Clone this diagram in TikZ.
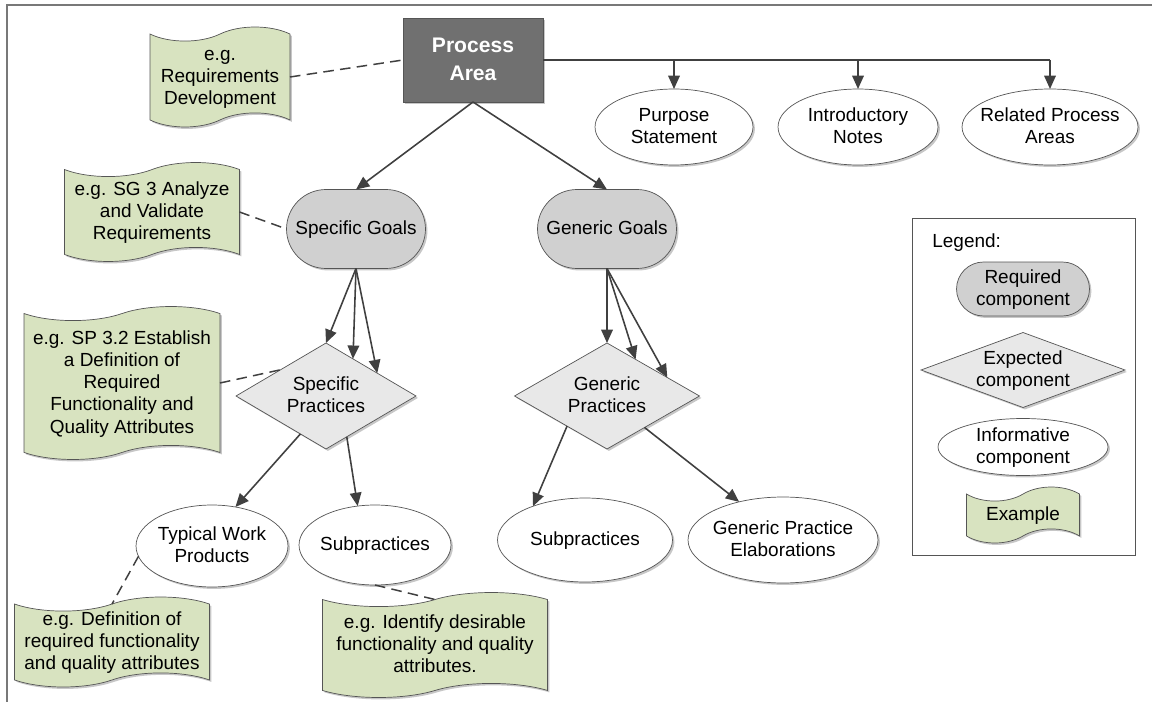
\documentclass[tikz,border=0pt]{standalone}
\usepackage{fontspec}
\setmainfont{Liberation Sans}
\usepackage{tikz}
\usetikzlibrary{arrows.meta,shapes,positioning,shadows}
\usepackage{xcolor}
\definecolor{cmline}{RGB}{64,64,64}
\definecolor{cmborder}{RGB}{85,85,85}
\definecolor{cmdark}{RGB}{112,112,112}
\definecolor{cmgoal}{RGB}{208,208,208}
\definecolor{cmpractice}{RGB}{232,232,232}
\definecolor{cmexample}{RGB}{216,227,192}
\definecolor{cmframe}{RGB}{120,120,120}
\newcommand{\shapetext}[1]{\makebox[0pt]{\raisebox{-3.5pt}[0pt][0pt]{\begin{tabular}{@{}c@{}}#1\end{tabular}}}}
\tikzstyle{arrow} = [line width=0.9pt,-{Triangle[length=7.6pt,width=6.6pt]},color=cmline]
\tikzstyle{dashline} = [line width=0.85pt,dash pattern=on 6pt off 3.6pt,color=cmline]
\tikzstyle{softshadow} = [drop shadow={shadow xshift=1.1pt,shadow yshift=-1.1pt,opacity=0.22,fill=black}]
\tikzstyle{areabox} = [rectangle, draw=cmborder, fill=cmdark, text=white, inner sep=0pt, outer sep=0pt, font=\fontsize{12}{15.9}\selectfont\bfseries, softshadow]
\tikzstyle{goalbox} = [rounded rectangle, draw=cmborder, fill=cmgoal, inner sep=0pt, outer sep=0pt, softshadow]
\tikzstyle{practicebox} = [diamond, draw=cmborder, fill=cmpractice, inner sep=0pt, outer sep=0pt, softshadow]
\tikzstyle{infobox} = [ellipse, draw=cmborder, fill=white, inner sep=0pt, outer sep=0pt, softshadow]
\tikzstyle{examplebox} = [tape, tape bend height=8pt, draw=cmborder, fill=cmexample, inner sep=0pt, outer sep=0pt, softshadow]

\begin{document}
\begin{tikzpicture}[x=0.02cm, y=-0.02cm, font=\fontsize{10.8}{12.6}\selectfont]
\useasboundingbox (0,0) rectangle (1152,702);
\draw[cmframe, line width=1.1pt] (7,702) -- (7,5) -- (1152,5);

% Process area and informative parts
\node[areabox, minimum width=2.8cm, minimum height=1.68cm] (area) at (473,60) {\shapetext{Process\\Area}};
\node[infobox, minimum width=3.16cm, minimum height=1.52cm] (purpose) at (674,127) {\shapetext{Purpose\\Statement}};
\node[infobox, minimum width=3.2cm, minimum height=1.52cm] (notes) at (858,127) {\shapetext{Introductory\\Notes}};
\node[infobox, minimum width=3.52cm, minimum height=1.52cm] (related) at (1050,127) {\shapetext{Related Process\\Areas}};
\draw[line width=0.9pt, cmline] (area.east) -- (area.east -| related.north);
\draw[arrow] (area.east -| purpose.north) -- (purpose.north);
\draw[arrow] (area.east -| notes.north) -- (notes.north);
\draw[arrow] (area.east -| related.north) -- (related.north);

% Goals
\node[goalbox, minimum width=2.78cm, minimum height=1.58cm] (sgoals) at (356,229) {\shapetext{Specific Goals}};
\node[goalbox, minimum width=2.78cm, minimum height=1.58cm] (ggoals) at (607,229) {\shapetext{Generic Goals}};
\draw[arrow] (area.south) -- (sgoals.north);
\draw[arrow] (area.south) -- (ggoals.north);

% Practices
\node[practicebox, minimum width=3.6cm, minimum height=2.12cm] (spract) at (326,396) {\shapetext{Specific\\Practices}};
\node[practicebox, minimum width=3.7cm, minimum height=2.12cm] (gpract) at (607,396) {\shapetext{Generic\\Practices}};
\draw[arrow] (sgoals.south) -- (spract.north);
\draw[arrow] (sgoals.south) -- (spract.54);
\draw[arrow] (sgoals.south) -- (spract.24);
\draw[arrow] (ggoals.south) -- (gpract.north);
\draw[arrow] (ggoals.south) -- (gpract.52);
\draw[arrow] (ggoals.south) -- (gpract.17);

% Lower informative parts
\node[infobox, minimum width=3.04cm, minimum height=1.64cm] (workprod) at (212,546) {\shapetext{Typical Work\\Products}};
\node[infobox, minimum width=3.04cm, minimum height=1.6cm] (ssub) at (375,545) {\shapetext{Subpractices}};
\node[infobox, minimum width=3.5cm, minimum height=1.68cm] (gsub) at (585,540) {\shapetext{Subpractices}};
\node[infobox, minimum width=3.8cm, minimum height=1.72cm] (elab) at (783,540) {\shapetext{Generic Practice\\Elaborations}};
\draw[arrow] (spract.236) -- (workprod.59);
\draw[arrow] (spract.297) -- (ssub.114);
\draw[arrow] (gpract.217) -- (gsub.147);
\draw[arrow] (gpract.320) -- (elab.139);

% Examples
\node[examplebox, minimum width=2.8cm, minimum height=2cm] (exarea) at (220,77) {\shapetext{e.g.\\Requirements\\Development}};
\node[examplebox, minimum width=3.5cm, minimum height=1.98cm] (exgoal) at (152,212) {\shapetext{e.g. SG 3 Analyze\\and Validate\\Requirements}};
\node[examplebox, minimum width=3.92cm, minimum height=3.06cm] (expract) at (122,383) {\shapetext{e.g. SP 3.2 Establish\\a Definition of\\Required\\Functionality and\\Quality Attributes}};
\node[examplebox, minimum width=3.9cm, minimum height=1.8cm] (exwork) at (112,642) {\shapetext{e.g. Definition of\\required functionality\\and quality attributes}};
\node[examplebox, minimum width=4.5cm, minimum height=2.1cm] (exsub) at (435,645) {\shapetext{e.g. Identify desirable\\functionality and quality\\attributes.}};
\draw[dashline] (exarea.east) -- (area.west);
\draw[dashline] (exgoal.east) -- (sgoals.west);
\draw[dashline] (expract.east) -- (spract.150);
\draw[dashline] (workprod.188) -- (exwork.north);
\draw[dashline] (ssub.south) -- (exsub.north);

% Legend
\node[rectangle, draw=cmborder, fill=white, minimum width=4.46cm, minimum height=6.74cm] (legend) at (1023.5,386.5) {};
\node[anchor=west, inner sep=0pt] (legendtitle) at (932,243) {Legend:};
\node[goalbox, minimum width=2.66cm, minimum height=1.08cm] (lreq) at (1023,289) {\shapetext{Required\\component}};
\node[practicebox, minimum width=4.08cm, minimum height=1.5cm] (lexp) at (1023,370) {\shapetext{Expected\\component}};
\node[infobox, minimum width=3.4cm, minimum height=1.14cm] (linf) at (1023,447) {\shapetext{Informative\\component}};
\node[examplebox, minimum width=2.26cm, minimum height=1.12cm] (lex) at (1023,515) {\shapetext{Example}};
\end{tikzpicture}
\end{document}
